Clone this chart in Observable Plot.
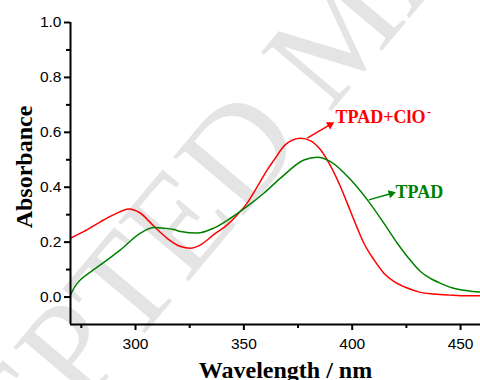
<!DOCTYPE html>
<html>
<head>
<meta charset="utf-8">
<script src="https://cdn.jsdelivr.net/npm/d3@7"></script>
<script src="https://cdn.jsdelivr.net/npm/@observablehq/plot@0.6"></script>
<style>
  html, body { margin: 0; padding: 0; background: #fff; }
</style>
</head>
<body>
<div id="chart"></div>
<script>
// ---- Data ----
const wavelengthRed = [270, 276, 284, 290, 297, 302, 308.5, 314.6, 320.8, 325.4, 330, 336.1, 342.3, 346.9, 351.5, 356.2, 360.8, 364, 369.3, 376.2, 380.8, 385, 388.5, 394.6, 397.7, 402.3, 405.4, 410, 414.6, 419.2, 425.4, 431.5, 437.7, 445, 450, 459.2];
const absorbanceRed = [0.214, 0.238, 0.275, 0.300, 0.321, 0.307, 0.258, 0.214, 0.184, 0.178, 0.190, 0.227, 0.263, 0.299, 0.342, 0.402, 0.463, 0.500, 0.556, 0.578, 0.569, 0.540, 0.499, 0.402, 0.342, 0.252, 0.196, 0.136, 0.087, 0.057, 0.033, 0.017, 0.011, 0.007, 0.005, 0.005];

const wavelengthGreen = [270, 272, 274.6, 279, 283.8, 293, 302.3, 308.5, 313, 317.7, 320.8, 328.5, 336.1, 343.8, 351.5, 359.2, 366.9, 377.7, 383.9, 390, 399.3, 407, 414.6, 420.8, 425.4, 431.5, 434, 437, 440.8, 446, 453.1, 459.2];
const absorbanceGreen = [0.008, 0.038, 0.063, 0.090, 0.117, 0.172, 0.233, 0.253, 0.251, 0.246, 0.239, 0.233, 0.251, 0.287, 0.330, 0.378, 0.433, 0.499, 0.509, 0.493, 0.427, 0.354, 0.269, 0.196, 0.148, 0.093, 0.078, 0.064, 0.050, 0.034, 0.023, 0.018];

const seriesNames = ["TPAD+ClO", "TPAD"];
const seriesColors = ["#ff0000", "#008000"];
const labelWavelength = [392.3, 420];
const labelAbsorbance = [0.655, 0.381];
const superscriptText = ["-"];
const superscriptWavelength = [434.5];
const superscriptAbsorbance = [0.675];

const arrowFromWavelength = [379.2, 407.7];
const arrowFromAbsorbance = [0.579, 0.354];
const arrowToWavelength = [389.8, 418.0];
const arrowToAbsorbance = [0.628, 0.377];

const xMajorTicks = [300, 350, 400, 450];
const xMinorTicks = [275, 325, 375, 425];
const yMajorTicks = [0.0, 0.2, 0.4, 0.6, 0.8, 1.0];
const yMinorTicks = [0.1, 0.3, 0.5, 0.7, 0.9];
const xTitle = ["Wavelength / nm"];
const yTitle = ["Absorbance"];
const watermark = ["ACCEPTED MANUSCRIPT"];

// ---- Layout ----
const W = 480, H = 380, mL = 70, mR = 0, mT = 22, mB = 56;
const xDomain = [270, 459.2], yDomain = [-0.1, 1.0];
// mirror of the plot's scales, used only to orient the arrowheads
const sx = d3.scaleLinear(xDomain, [mL, W - mR]);
const sy = d3.scaleLinear(yDomain, [H - mB, mT]);

// ---- Tables built from the arrays ----
const red = wavelengthRed.map((w, i) => ({w, a: absorbanceRed[i]}));
const green = wavelengthGreen.map((w, i) => ({w, a: absorbanceGreen[i]}));
const labels = seriesNames.map((t, i) => ({t, x: labelWavelength[i], y: labelAbsorbance[i], c: seriesColors[i]}));
const sup = superscriptText.map((t, i) => ({t, x: superscriptWavelength[i], y: superscriptAbsorbance[i]}));
const arrows = seriesNames.map((t, i) => {
  const x1 = arrowFromWavelength[i], y1 = arrowFromAbsorbance[i];
  const x2 = arrowToWavelength[i], y2 = arrowToAbsorbance[i];
  const ddx = sx(x2) - sx(x1), ddy = sy(y2) - sy(y1);
  return {x1, y1, x2, y2, c: seriesColors[i], rot: Math.atan2(ddx, -ddy) * 180 / Math.PI};
});

const serif = "'Liberation Serif', 'Times New Roman', serif";
const sans = "'Liberation Sans', Arial, sans-serif";

const chart = Plot.plot({
  width: W,
  height: H,
  marginLeft: mL,
  marginRight: mR,
  marginTop: mT,
  marginBottom: mB,
  x: {domain: xDomain},
  y: {domain: yDomain},
  style: {background: "#fff", fontFamily: sans, fontSize: "15.5px", color: "#000"},
  marks: [
    Plot.text(watermark, {
      frameAnchor: "middle", text: d => d, dx: 65, dy: -143, rotate: -50,
      fontSize: 140, fontFamily: serif, fill: "#e4e4e4"
    }),
    Plot.line(red, {x: "w", y: "a", stroke: seriesColors[0], strokeWidth: 1.5, curve: "monotone-x"}),
    Plot.line(green, {x: "w", y: "a", stroke: seriesColors[1], strokeWidth: 1.5, curve: "monotone-x"}),
    Plot.ruleX([xDomain[0]], {stroke: "#000", strokeWidth: 2}),
    Plot.ruleY([yDomain[0]], {stroke: "#000", strokeWidth: 2}),
    Plot.axisX({ticks: xMajorTicks, tickSize: 6, tickPadding: 7, tickFormat: d3.format("d"),
      fontSize: 15.5, fontFamily: sans, label: null, strokeWidth: 2}),
    Plot.axisX({ticks: xMinorTicks, tickSize: 4, tickFormat: () => "", label: null, strokeWidth: 2}),
    Plot.axisY({ticks: yMajorTicks, tickSize: 6, tickPadding: 3, tickFormat: d3.format(".1f"),
      fontSize: 15.5, fontFamily: sans, label: null, strokeWidth: 2}),
    Plot.axisY({ticks: yMinorTicks, tickSize: 4, tickFormat: () => "", label: null, strokeWidth: 2}),
    Plot.link(arrows, {x1: "x1", y1: "y1", x2: "x2", y2: "y2", stroke: "c", strokeWidth: 1.5}),
    Plot.dot(arrows, {x: "x2", y: "y2", symbol: "triangle2", r: 4, fill: "c", rotate: "rot"}),
    Plot.text(labels, {x: "x", y: "y", text: "t", fill: "c", textAnchor: "start", lineAnchor: "middle",
      fontSize: 18, fontWeight: "bold", fontFamily: serif}),
    Plot.text(sup, {x: "x", y: "y", text: "t", fill: seriesColors[0], textAnchor: "start", lineAnchor: "middle",
      fontSize: 12, fontWeight: "bold", fontFamily: serif}),
    Plot.text(yTitle, {frameAnchor: "left", text: d => d, dx: -39, dy: -6.5, rotate: -90,
      textAnchor: "middle", lineAnchor: "bottom", fontSize: 24, fontWeight: "bold", fontFamily: serif}),
    Plot.text(xTitle, {frameAnchor: "bottom", text: d => d, dx: 10, dy: 53, textAnchor: "middle",
      lineAnchor: "bottom", fontSize: 24, fontWeight: "bold", fontFamily: serif})
  ]
});
document.getElementById("chart").appendChild(chart);
</script>
</body>
</html>
